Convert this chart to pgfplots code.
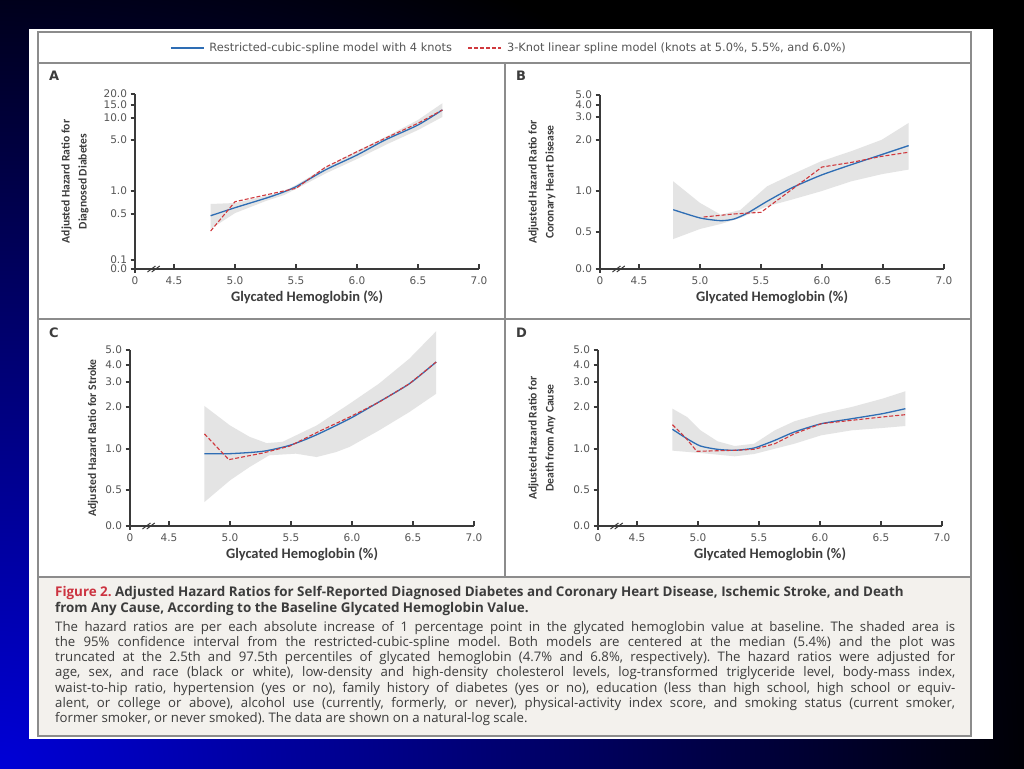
\documentclass[border=0pt]{standalone}
\usepackage{fontspec}
\setmainfont{DejaVu Sans}
\newfontfamily\condfont{Carlito}
\newfontfamily\capfont{Open Sans}
\usepackage{pgfplots}
\pgfplotsset{compat=1.18}

\definecolor{framec}{HTML}{8C8C8C}
\definecolor{axisc}{HTML}{3A3A3A}
\definecolor{tickc}{HTML}{555555}
\definecolor{rcs}{HTML}{2E6DB4}
\definecolor{lsp}{HTML}{D0393E}
\definecolor{band}{HTML}{E4E4E4}
\definecolor{capbg}{HTML}{F3F1ED}
\definecolor{figred}{HTML}{CC3340}
\definecolor{captext}{HTML}{3C3C3C}
\definecolor{slideblue}{RGB}{0,0,215}

% piecewise scales of the hazard-ratio axes (value -> pt above the x axis)
\pgfplotsset{
  trafoA/.style={y coord trafo/.code={\pgfmathparse{(##1<0.1)?(##1*90):((##1<0.5)?(9+(##1-0.1)*115):((##1<1)?(55+(##1-0.5)*46):((##1<5)?(78+(##1-1)*12.75):((##1<10)?(129+(##1-5)*4.4):((##1<15)?(151+(##1-10)*2.6):(164+(##1-15)*2.2))))))}}},
  trafoB/.style={y coord trafo/.code={\pgfmathparse{(##1<0.5)?(##1*74):((##1<1)?(37+(##1-0.5)*82):((##1<2)?(78+(##1-1)*51):((##1<3)?(129+(##1-2)*23):((##1<4)?(152+(##1-3)*12):(164+(##1-4)*10)))))}}},
  trafoC/.style={y coord trafo/.code={\pgfmathparse{(##1<0.5)?(##1*72):((##1<1)?(36+(##1-0.5)*82):((##1<2)?(77+(##1-1)*42):((##1<3)?(119+(##1-2)*25):((##1<4)?(144+(##1-3)*17):(161+(##1-4)*15)))))}}},
  panel/.style={
    scale only axis, width=344pt, clip=false,
    xmin=4.18, xmax=7.0, ymin=0,
    axis lines*=left,
    axis line style={axisc, line width=1.4pt},
    xtick={4.18,4.5,5,5.5,6,6.5,7},
    xticklabels={0,4.5,5.0,5.5,6.0,6.5,7.0},
    tick align=outside,
    major tick length=4.5pt,
    tick style={axisc, line width=1.2pt},
    xtick style={yshift=4.5pt},
    ticklabel style={font=\fontsize{10.5}{12}\selectfont, text=tickc},
    xlabel={Glycated Hemoglobin (\%)},
    xlabel style={at={(axis description cs:0.5,0)}, anchor=base, yshift=-33pt,
      font=\condfont\bfseries\fontsize{14.5}{15}\selectfont, text=captext},
    ylabel style={anchor=center, align=center,
      font=\condfont\bfseries\fontsize{11.6}{17}\selectfont, text=captext},
  },
  hrs/.style={ytick={0,0.5,1,2,3,4,5}, yticklabels={0.0,0.5,1.0,2.0,3.0,4.0,5.0}, ymax=5},
  ciband/.style={fill=band, draw=none, forget plot},
  rcsline/.style={rcs, line width=1.3pt, smooth, tension=0.4, mark=none},
  lspline/.style={lsp, line width=1.1pt, dash pattern=on 4pt off 2pt, mark=none},
}
\newcommand{\axisbits}{%
  \draw[axisc, line width=1.4pt] (axis cs:4.18,0) -- ([yshift=-4.5pt]axis cs:4.18,0);
  \draw[axisc, line width=1pt] ([xshift=-4pt,yshift=-3pt]axis cs:4.315,0) -- ([xshift=4pt,yshift=3pt]axis cs:4.315,0);
  \draw[axisc, line width=1pt] ([xshift=-4pt,yshift=-3pt]axis cs:4.35,0) -- ([xshift=4pt,yshift=3pt]axis cs:4.35,0);
}

\begin{document}
\frenchspacing
\begin{tikzpicture}
\path[use as bounding box] (0pt,0pt) rectangle (1024pt,768pt);
\begin{scope}[x=1pt,y=1pt]
  \fill[black] (0,0) rectangle (1024,768);
  \begin{scope}
    \clip (0,0) rectangle (1024,768);
    \shade[inner color=slideblue, outer color=black] (0,0) ellipse (1050 and 880);
  \end{scope}
  \fill[white] (29,29) rectangle (993,739);
  \fill[capbg] (38,32) rectangle (971,191);
  \draw[framec, line width=1.5pt] (38,32) rectangle (971,736);
  \draw[framec, line width=1.5pt] (38,705) -- (971,705);
  \draw[framec, line width=1.5pt] (38,449) -- (971,449);
  \draw[framec, line width=1.5pt] (505,705) -- (505,191);
  \draw[framec, line width=1.5pt] (38,191) -- (971,191);
  \foreach \L/\px/\py in {A/49/692, B/516/692, C/49/435, D/516/435}
    \node[anchor=west, inner sep=0pt, font=\bfseries\fontsize{13}{14}\selectfont, text=captext] at (\px,\py) {\L};
  \node[anchor=north west, inner sep=0pt, align=left, text=captext,
        font=\capfont\bfseries\fontsize{13.4}{16}\selectfont] at (55,182)
    {\textcolor{figred}{Figure 2.} Adjusted Hazard Ratios for Self-Reported Diagnosed Diabetes and Coronary Heart Disease, Ischemic Stroke, and Death\\
     from Any Cause, According to the Baseline Glycated Hemoglobin Value.};
  \node[anchor=north west, inner sep=0pt, align=left, text=captext,
        font=\capfont\fontsize{13.2}{15.2}\selectfont] at (55,147)
    {\makebox[900pt][s]{The hazard ratios are per each absolute increase of 1 percentage point in the glycated hemoglobin value at baseline. The shaded area is}\\
     \makebox[900pt][s]{the 95\% confidence interval from the restricted-cubic-spline model. Both models are centered at the median (5.4\%) and the plot was}\\
     \makebox[900pt][s]{truncated at the 2.5th and 97.5th percentiles of glycated hemoglobin (4.7\% and 6.8\%, respectively). The hazard ratios were adjusted for}\\
     \makebox[900pt][s]{age, sex, and race (black or white), low-density and high-density cholesterol levels, log-transformed triglyceride level, body-mass index,}\\
     \makebox[900pt][s]{waist-to-hip ratio, hypertension (yes or no), family history of diabetes (yes or no), education (less than high school, high school or equiv-}\\
     \makebox[900pt][s]{alent, or college or above), alcohol use (currently, formerly, or never), physical-activity index score, and smoking status (current smoker,}\\
     former smoker, or never smoked). The data are shown on a natural-log scale.};
\end{scope}

% A: diagnosed diabetes
\begin{axis}[panel, trafoA, at={(135pt,499pt)}, anchor=south west, height=175pt,
    ymax=20, ytick={0,0.1,0.5,1,5,10,15,20},
    yticklabels={0.0,0.1,0.5,1.0,5.0,10.0,15.0,20.0},
    ylabel={Adjusted Hazard Ratio for\\Diagnosed Diabetes},
    ylabel style={at={([xshift=-60pt]axis description cs:0,0.5)}},
    legend style={at={(axis description cs:0.1017,1.263)}, anchor=west, draw=none, fill=none,
      inner sep=0pt, legend columns=2, font=\fontsize{11.4}{13}\selectfont, text=tickc,
      /tikz/every odd column/.append style={column sep=3pt},
      /tikz/every even column/.append style={column sep=14pt}, cells={anchor=west}},
    legend image code/.code={\draw[#1] (0pt,0pt) -- (33pt,0pt);}]
  \addplot[ciband] coordinates {(4.8,0.717) (5.0,0.739) (5.25,0.891) (5.4,0.99) (5.5,1.47)
    (5.75,2.88) (6.0,4.14) (6.25,5.91) (6.5,9.55) (6.7,15.8)
    (6.7,10.4) (6.5,7.27) (6.25,4.69) (6.0,3.51) (5.75,2.41) (5.5,1.16) (5.4,0.91)
    (5.25,0.78) (5.0,0.52) (4.8,0.37)};
  \addplot[rcsline] coordinates {(4.8,0.485) (5.0,0.637) (5.25,0.841) (5.37,0.95) (5.5,1.34)
    (5.74,2.65) (6.0,3.82) (6.23,5.0) (6.5,8.41) (6.7,13.1)};
  \addlegendentry{Restricted-cubic-spline model with 4 knots}
  \addplot[lspline] coordinates {(4.8,0.352) (5.0,0.767) (5.25,0.913) (5.5,1.21) (5.74,2.86)
    (6.0,4.08) (6.23,5.39) (6.5,8.8) (6.7,13.1)};
  \addlegendentry{3-Knot linear spline model (knots at 5.0\%, 5.5\%, and 6.0\%)}
  \axisbits
\end{axis}

% B: coronary heart disease
\begin{axis}[panel, trafoB, hrs, at={(600pt,499pt)}, anchor=south west, height=174pt,
    ylabel={Adjusted Hazard Ratio for\\Coronary Heart Disease},
    ylabel style={at={([xshift=-58pt]axis description cs:0,0.5)}}]
  \addplot[ciband] coordinates {(4.78,1.19) (5.0,0.854) (5.17,0.711) (5.33,0.768) (5.55,1.092)
    (5.75,1.32) (5.99,1.58) (6.24,1.78) (6.49,2.01) (6.71,2.74)
    (6.71,1.42) (6.49,1.33) (6.24,1.19) (5.99,0.996) (5.75,0.894) (5.55,0.813)
    (5.33,0.671) (5.17,0.598) (5.0,0.537) (4.78,0.405)};
  \addplot[rcsline] coordinates {(4.78,0.772) (5.0,0.671) (5.17,0.638) (5.28,0.659) (5.39,0.732)
    (5.55,0.874) (5.75,1.059) (5.99,1.308) (6.24,1.516) (6.49,1.714) (6.71,1.89)};
  \addplot[lspline] coordinates {(5.03,0.683) (5.28,0.72) (5.5,0.74) (5.75,1.025) (6.0,1.47)
    (6.24,1.56) (6.49,1.68) (6.71,1.76)};
  \axisbits
\end{axis}

% C: stroke
\begin{axis}[panel, trafoC, hrs, at={(130pt,242pt)}, anchor=south west, height=176pt,
    ylabel={Adjusted Hazard Ratio for Stroke},
    ylabel style={at={([xshift=-37pt]axis description cs:0,0.5)}}]
  \addplot[ciband] coordinates {(4.79,2.04) (5.0,1.56) (5.16,1.29) (5.3,1.14) (5.43,1.17)
    (5.71,1.56) (5.98,2.13) (6.22,2.93) (6.47,4.42) (6.69,6.25)
    (6.69,2.53) (6.47,1.88) (6.22,1.44) (5.98,1.05) (5.87,0.963) (5.71,0.902)
    (5.54,0.943) (5.32,0.923) (5.16,0.78) (5.0,0.618) (4.79,0.333)};
  \addplot[rcsline] coordinates {(4.79,0.943) (5.0,0.943) (5.27,0.972) (5.49,1.088) (5.7,1.326)
    (5.98,1.72) (6.22,2.2) (6.47,2.93) (6.69,4.2)};
  \addplot[lspline] coordinates {(4.79,1.36) (4.99,0.87) (5.27,0.951) (5.49,1.07) (5.73,1.42)
    (5.98,1.76) (6.22,2.19) (6.47,2.93) (6.69,4.2)};
  \axisbits
\end{axis}

% D: death from any cause
\begin{axis}[panel, trafoC, hrs, at={(598pt,242pt)}, anchor=south west, height=176pt,
    ylabel={Adjusted Hazard Ratio for\\Death from Any Cause},
    ylabel style={at={([xshift=-56pt]axis description cs:0,0.5)}}]
  \addplot[ciband] coordinates {(4.79,1.96) (4.91,1.762) (5.02,1.445) (5.16,1.183) (5.3,1.071)
    (5.46,1.126) (5.63,1.445) (5.79,1.66) (6.01,1.84) (6.26,2.0) (6.51,2.33) (6.7,2.63)
    (6.7,1.548) (6.51,1.5) (6.26,1.445) (6.01,1.326) (5.79,1.126) (5.63,1.007)
    (5.46,0.939) (5.3,0.911) (5.02,0.951) (4.79,0.98)};
  \addplot[rcsline] coordinates {(4.79,1.469) (4.91,1.245) (5.02,1.071) (5.16,0.996) (5.3,0.984)
    (5.46,1.024) (5.63,1.207) (5.79,1.405) (6.01,1.602) (6.26,1.721) (6.51,1.84) (6.7,1.96)};
  \addplot[lspline] coordinates {(4.79,1.579) (4.9,1.262) (4.99,0.972) (5.3,0.984) (5.46,0.996)
    (5.63,1.126) (5.79,1.364) (6.01,1.602) (6.26,1.683) (6.51,1.762) (6.7,1.817)};
  \axisbits
\end{axis}
\end{tikzpicture}
\end{document}
